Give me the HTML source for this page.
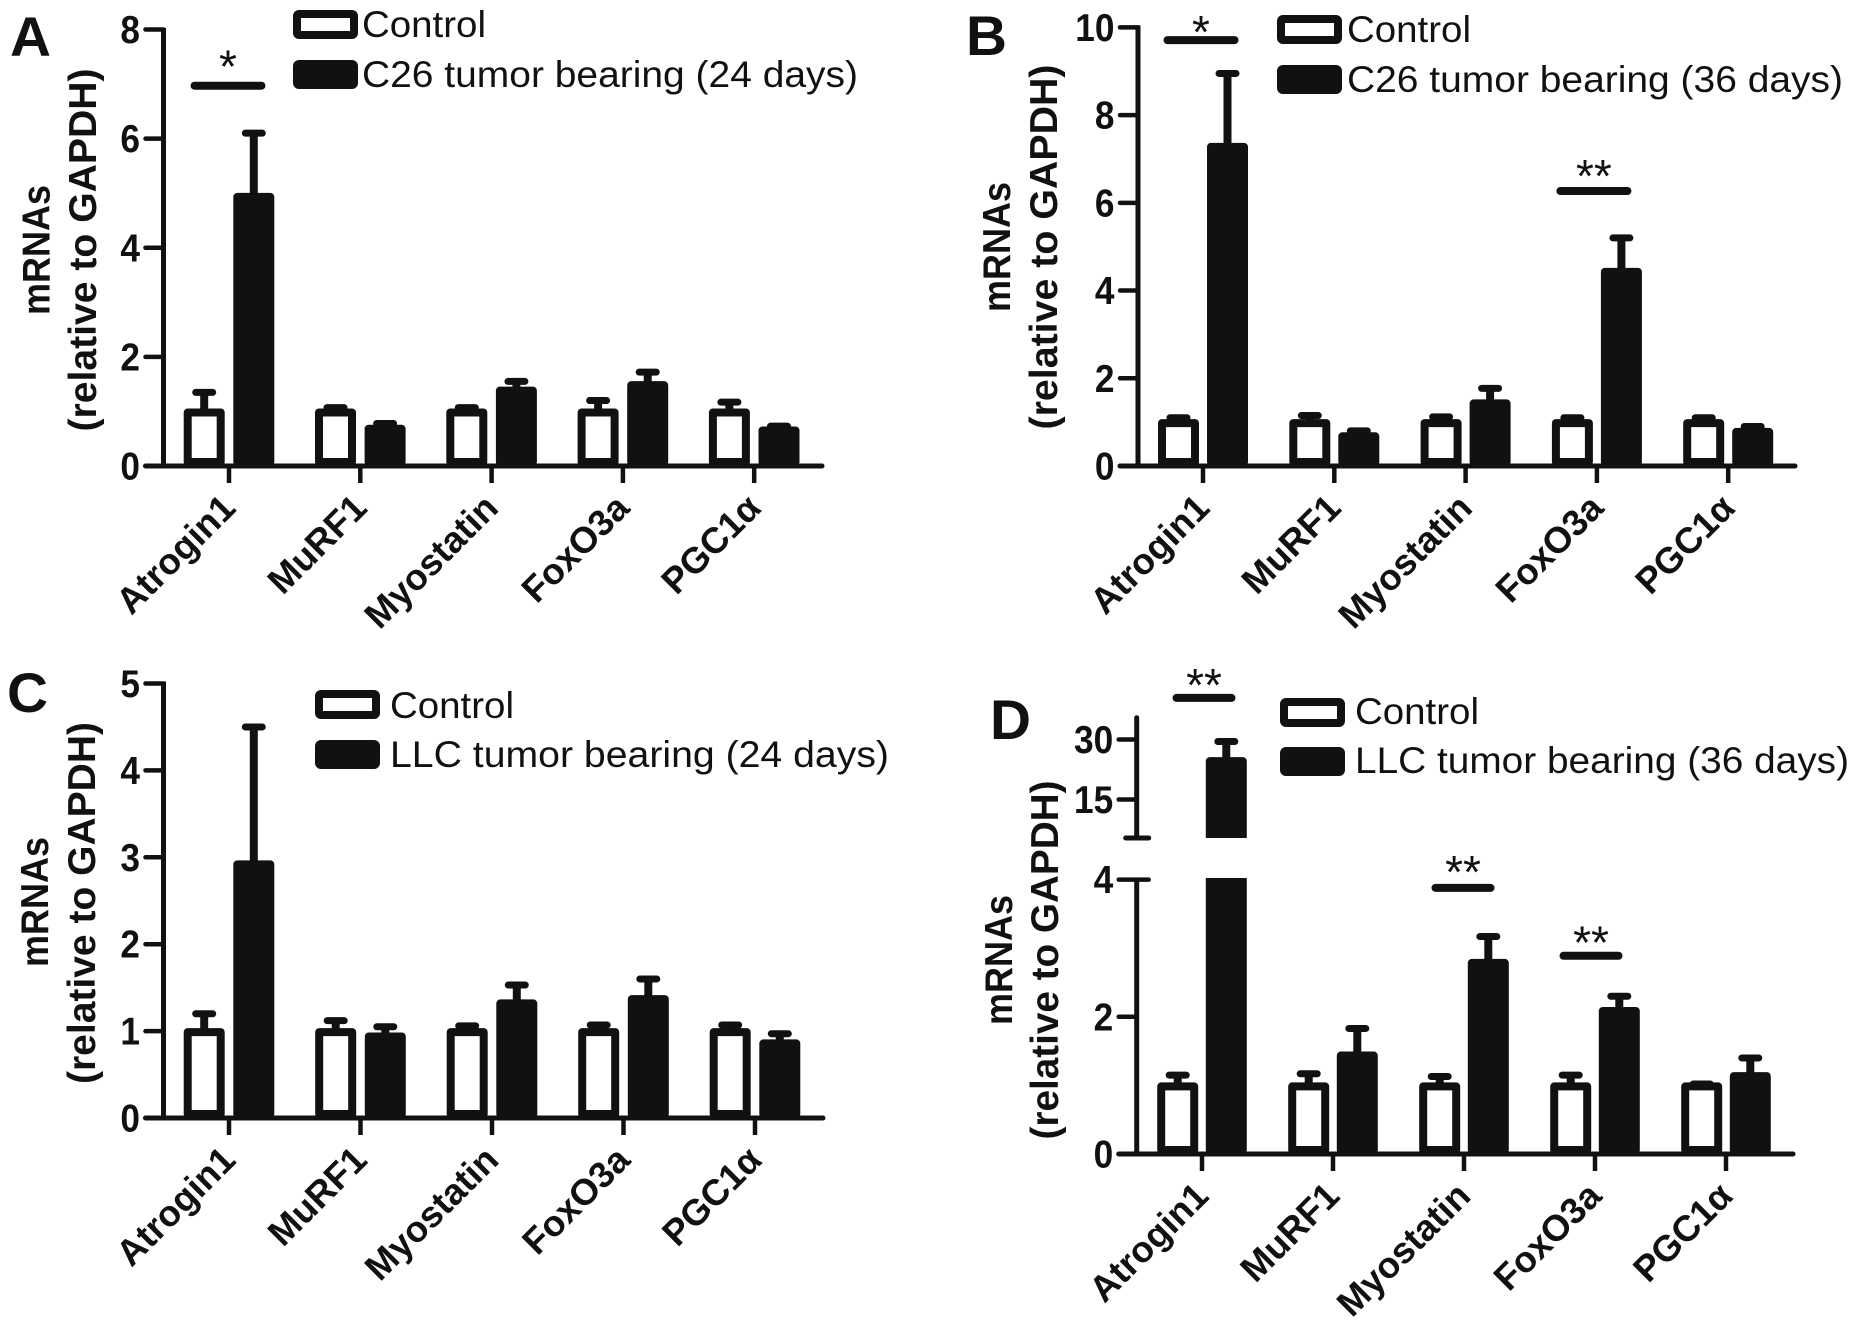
<!DOCTYPE html>
<html lang="en">
<head>
<meta charset="utf-8">
<title>mRNA expression in tumor-bearing mice</title>
<style>
html,body{margin:0;padding:0;background:#fff;width:1855px;height:1330px;overflow:hidden}
svg{display:block}
text{font-family:"Liberation Sans",Arial,sans-serif;fill:#111}
</style>
</head>
<body>
<svg id="figure" xmlns="http://www.w3.org/2000/svg" width="1855" height="1330" viewBox="0 0 1855 1330"></svg>
<script>
const categories = ['Atrogin1', 'MuRF1', 'Myostatin', 'FoxO3a', 'PGC1α'];

const ticksA = [0, 2, 4, 6, 8];
const controlA = [1, 1, 1, 1, 1];
const controlErrA = [0.35, 0.07, 0.07, 0.2, 0.17];
const tumorA = [4.95, 0.7, 1.4, 1.5, 0.67];
const tumorErrA = [1.15, 0.08, 0.15, 0.22, 0.06];
const sigCatsA = [0];
const sigLevelsA = [6.97];
const sigLabelsA = ['*'];

const ticksB = [0, 2, 4, 6, 8, 10];
const controlB = [1, 1, 1, 1, 1];
const controlErrB = [0.1, 0.15, 0.12, 0.1, 0.1];
const tumorB = [7.3, 0.7, 1.45, 4.45, 0.8];
const tumorErrB = [1.65, 0.1, 0.32, 0.75, 0.1];
const sigCatsB = [0, 3];
const sigLevelsB = [9.71, 6.27];
const sigLabelsB = ['*', '**'];

const ticksC = [0, 1, 2, 3, 4, 5];
const controlC = [1, 1, 1, 1, 1];
const controlErrC = [0.2, 0.12, 0.06, 0.07, 0.07];
const tumorC = [2.93, 0.95, 1.33, 1.38, 0.87];
const tumorErrC = [1.57, 0.1, 0.2, 0.22, 0.1];
const sigCatsC = [];
const sigLevelsC = [];
const sigLabelsC = [];

const ticksD = [0, 2, 4, 15, 30];
const controlD = [1, 1, 1, 1, 1];
const controlErrD = [0.15, 0.17, 0.13, 0.15, 0.02];
const tumorD = [24.85, 1.45, 2.8, 2.1, 1.15];
const tumorErrD = [4.65, 0.38, 0.37, 0.2, 0.25];
const sigCatsD = [0, 2, 3];
const sigLevelsD = [40.4, 3.88, 2.89];
const sigLabelsD = ['**', '**', '**'];

const INK = '#111';
const SVGNS = 'http://www.w3.org/2000/svg';
const root = document.getElementById('figure');

function add(parent, tag, attrs, name, interact, txt) {
  const el = document.createElementNS(SVGNS, tag);
  for (const k in attrs) el.setAttribute(k, attrs[k]);
  
  
  if (txt !== undefined) el.textContent = txt;
  parent.appendChild(el);
  return el;
}

function line(parent, x1, y1, x2, y2, w, name, cap) {
  return add(parent, 'line', {x1, y1, x2, y2, stroke: INK, 'stroke-width': w, 'stroke-linecap': cap || 'butt'}, name, false);
}

function linearY(base, perUnit) {
  return v => base - v * perUnit;
}

function brokenY(base, perUnit, upperRef, upperRefValue, upperPerUnit, limit) {
  return v => v <= limit ? base - v * perUnit : upperRef - (v - upperRefValue) * upperPerUnit;
}

function drawPanel(p) {
  const g = add(root, 'g', {}, 'panel-' + p.id.toLowerCase(), false);
  const y = p.y;
  const xc = i => p.x0 + i * p.step;

  add(g, 'text', {x: p.letter[0], y: p.letter[1], 'font-size': 56, 'font-weight': 'bold', textLength: p.letter[2], lengthAdjust: 'spacingAndGlyphs'}, 'panel-label', false, p.id);

  // error bars and bars
  categories.forEach((c, i) => {
    [[p.control, p.controlErr, -p.off, 'control'], [p.tumor, p.tumorErr, p.off, 'tumor']].forEach(s => {
      const cx = xc(i) + s[2];
      const v = s[0][i];
      const top = v + s[1][i];
      const k = c.toLowerCase().replace('α', 'a');
      line(g, cx, y(v), cx, y(top), 8, 'error-stem-' + s[3] + '-' + k);
      line(g, cx - 8.5, y(top), cx + 8.5, y(top), 7, 'error-cap-' + s[3] + '-' + k, 'round');
      add(g, 'rect', {
        x: cx - 16.5, y: y(v) + 1, width: 33, height: Math.max(0, p.base - y(v) - 5),
        fill: s[3] === 'control' ? '#fff' : INK, stroke: INK, 'stroke-width': 8, 'stroke-linejoin': 'round'
      }, 'bar-' + s[3] + '-' + k, false);
    });
  });

  // axis-break gap
  if (p.gap) {
    add(g, 'rect', {x: p.axisX - 10, y: p.gap[0], width: 140, height: p.gap[1] - p.gap[0], fill: '#fff'}, 'axis-break-gap', false);
  }

  // y axis
  if (p.gap) {
    line(g, p.axisX, p.axisTop, p.axisX, p.gap[0], 5, 'y-axis-upper', 'round');
    line(g, p.axisX, p.gap[1], p.axisX, p.base, 5, 'y-axis-lower');
    line(g, p.axisX - 11, p.gap[0], p.axisX + 12, p.gap[0], 5, 'axis-break-upper-tick', 'round');
  } else {
    line(g, p.axisX, p.axisTop - 2, p.axisX, p.base, 5, 'y-axis');
  }
  p.ticks.forEach(t => {
    const ty = y(t);
    const right = (p.gap && t === p.breakTick) ? p.axisX + 12 : p.axisX;
    line(g, p.axisX - 18, ty, right, ty, 4.5, 'y-tick-' + t, 'round');
    add(g, 'text', {x: p.axisX - 23.5, y: ty + 13.5, 'font-size': 39, 'font-weight': 'bold', 'text-anchor': 'end', textLength: String(t).length * 19.6, lengthAdjust: 'spacingAndGlyphs'}, 'y-tick-label-' + t, false, String(t));
  });

  // x axis
  line(g, p.axisX - 18, p.base, p.xEnd, p.base, 5, 'x-axis', 'round');
  categories.forEach((c, i) => {
    const tx = xc(i);
    const k = c.toLowerCase().replace('α', 'a');
    line(g, tx, p.base, tx, p.base + 17, 4.5, 'x-tick-' + k);
    const lx = tx + 8.5, ly = p.base + 44;
    add(g, 'text', {
      x: lx, y: ly, 'font-size': 36.5, 'font-weight': 'bold', 'text-anchor': 'end',
      transform: 'rotate(-45 ' + lx + ' ' + ly + ')'
    }, 'x-label-' + k, false, c);
  });

  // axis titles
  add(g, 'text', {
    x: 0, y: 0, 'font-size': 39, 'font-weight': 'bold', 'text-anchor': 'middle', textLength: p.t1[2], lengthAdjust: 'spacingAndGlyphs',
    transform: 'translate(' + p.t1[0] + ' ' + p.t1[1] + ') rotate(-90)'
  }, 'y-axis-title', false, 'mRNAs');
  add(g, 'text', {
    x: 0, y: 0, 'font-size': 39, 'font-weight': 'bold', 'text-anchor': 'middle', textLength: p.t2[2], lengthAdjust: 'spacingAndGlyphs',
    transform: 'translate(' + p.t2[0] + ' ' + p.t2[1] + ') rotate(-90)'
  }, 'y-axis-subtitle', false, '(relative to GAPDH)');

  // significance
  p.sigCats.forEach((cat, i) => {
    const sx = xc(cat) + p.sigShift[i], sy = y(p.sigLevels[i]);
    line(g, sx - p.sigHalf + 4, sy, sx + p.sigHalf - 4, sy, 8, 'significance-line-' + i, 'round');
    add(g, 'text', {x: sx, y: sy - p.sigGaps[i] + 25, 'font-size': 46, 'text-anchor': 'middle'}, 'significance-stars-' + i, false, p.sigLabels[i]);
  });

  // legend
  const leg = p.legend;
  add(g, 'rect', {x: leg.x + 4, y: leg.y1 + 4, width: 57, height: 21, fill: '#fff', stroke: INK, 'stroke-width': 8, rx: 2}, 'legend-swatch-control', false);
  add(g, 'rect', {x: leg.x + 4, y: leg.y2 + 4, width: 57, height: 21, fill: INK, stroke: INK, 'stroke-width': 8, rx: 2}, 'legend-swatch-tumor', false);
  add(g, 'text', {x: leg.tx, y: leg.b1, 'font-size': 37.5, textLength: 124, lengthAdjust: 'spacingAndGlyphs'}, 'legend-label-control', false, 'Control');
  add(g, 'text', {x: leg.tx, y: leg.b2, 'font-size': 37.5, textLength: leg.w, lengthAdjust: 'spacingAndGlyphs'}, 'legend-label-tumor', false, leg.text);
}

drawPanel({
  id: 'A', y: linearY(466, 54.56), base: 466, axisX: 163.5, axisTop: 30, xEnd: 822, x0: 229, step: 131.3, off: 24.8,
  ticks: ticksA, control: controlA, controlErr: controlErrA, tumor: tumorA, tumorErr: tumorErrA,
  sigCats: sigCatsA, sigLevels: sigLevelsA, sigLabels: sigLabelsA, sigHalf: 37.5, sigGaps: [28], sigShift: [-1],
  letter: [10, 56, 41],
  t1: [49.5, 250, 130], t2: [96, 250, 363],
  legend: {x: 293, y1: 10, y2: 60, tx: 362, b1: 37, b2: 87, w: 496, text: 'C26 tumor bearing (24 days)'}
});

drawPanel({
  id: 'B', y: linearY(466, 43.86), base: 466, axisX: 1138, axisTop: 27.4, xEnd: 1795, x0: 1203, step: 131.3, off: 24.5,
  ticks: ticksB, control: controlB, controlErr: controlErrB, tumor: tumorB, tumorErr: tumorErrB,
  sigCats: sigCatsB, sigLevels: sigLevelsB, sigLabels: sigLabelsB, sigHalf: 37.5, sigGaps: [17, 24], sigShift: [-2, -3],
  letter: [966, 55, 41],
  t1: [1010, 247, 130], t2: [1057, 247, 365],
  legend: {x: 1277, y1: 15, y2: 65, tx: 1347, b1: 42, b2: 92, w: 496, text: 'C26 tumor bearing (36 days)'}
});

drawPanel({
  id: 'C', y: linearY(1118, 86.9), base: 1118, axisX: 163.5, axisTop: 683.5, xEnd: 823, x0: 229, step: 131.5, off: 24.8,
  ticks: ticksC, control: controlC, controlErr: controlErrC, tumor: tumorC, tumorErr: tumorErrC,
  sigCats: sigCatsC, sigLevels: sigLevelsC, sigLabels: sigLabelsC, sigHalf: 37, sigGaps: [], sigShift: [],
  letter: [7, 712, 41],
  t1: [48, 902, 130], t2: [95, 903, 362],
  legend: {x: 315, y1: 690, y2: 740, tx: 390, b1: 718, b2: 767, w: 499, text: 'LLC tumor bearing (24 days)'}
});

drawPanel({
  id: 'D', y: brokenY(1154, 68.6, 799.5, 15, 4, 4), base: 1154, axisX: 1136.7, axisTop: 717.7, xEnd: 1793, x0: 1202, step: 131, off: 24.3,
  gap: [838, 878], breakTick: 4,
  ticks: ticksD, control: controlD, controlErr: controlErrD, tumor: tumorD, tumorErr: tumorErrD,
  sigCats: sigCatsD, sigLevels: sigLevelsD, sigLabels: sigLabelsD, sigHalf: 31.5, sigGaps: [22, 25, 22], sigShift: [2, -1, -4],
  letter: [990, 739, 41],
  t1: [1012, 960, 130], t2: [1058, 960, 359],
  legend: {x: 1280, y1: 698, y2: 747, tx: 1355, b1: 724, b2: 773, w: 494, text: 'LLC tumor bearing (36 days)'}
});
</script>
</body>
</html>
